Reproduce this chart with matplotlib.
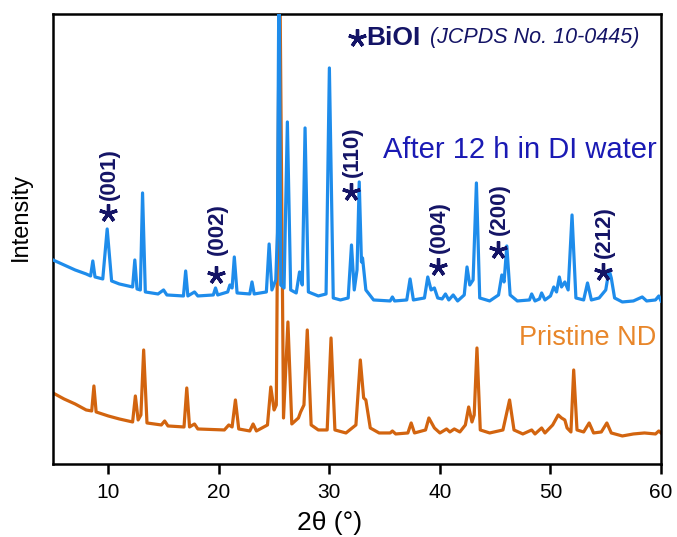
import matplotlib
matplotlib.use("Agg")
import matplotlib.pyplot as plt
import numpy as np

plt.rcParams["font.family"] = ["Liberation Sans", "DejaVu Sans"]

# XRD pattern vertices: (2theta, intensity a.u.)
after_pts = [
    (5.0, 204), (6.0, 199), (7.0, 194), (8.0, 190), (8.4, 188), (8.6, 203), (8.8, 187),
    (9.5, 185), (9.9, 235), (10.3, 183), (11.0, 180), (12.2, 177), (12.4, 204), (12.6, 175),
    (12.9, 174), (13.1, 271), (13.35, 172), (14.5, 170), (15.0, 174), (15.3, 169),
    (16.8, 168), (17.0, 193), (17.2, 168), (17.8, 172), (18.1, 168), (19.5, 169),
    (19.7, 176), (19.9, 169), (20.8, 172), (21.0, 179), (21.2, 176), (21.4, 207),
    (21.65, 171), (22.8, 170), (23.0, 182), (23.2, 170), (24.3, 172), (24.55, 220),
    (24.8, 174), (25.15, 184), (25.3, 231), (25.45, 520), (25.6, 179), (25.9, 176),
    (26.2, 342), (26.5, 174), (27.0, 171), (27.3, 192), (27.55, 179), (27.8, 336),
    (28.1, 172), (29.0, 168), (29.7, 170), (30.0, 396), (30.35, 166), (31.0, 164),
    (31.7, 166), (32.0, 219), (32.25, 174), (32.5, 194), (32.7, 282), (32.9, 202),
    (33.0, 206), (33.3, 174), (34.0, 164), (35.5, 163), (35.7, 167), (35.9, 163),
    (37.0, 164), (37.3, 185), (37.6, 164), (38.6, 166), (38.9, 187), (39.2, 174),
    (39.5, 176), (39.8, 166), (40.2, 165), (40.5, 170), (40.8, 164), (41.2, 169),
    (41.6, 163), (42.2, 169), (42.45, 197), (42.7, 179), (43.0, 184), (43.3, 281),
    (43.6, 166), (44.5, 163), (45.3, 169), (45.6, 189), (45.8, 182), (46.05, 218),
    (46.35, 169), (47.0, 163), (48.1, 164), (48.3, 170), (48.6, 163), (49.0, 165),
    (49.2, 171), (49.5, 164), (50.0, 168), (50.3, 177), (50.55, 172), (50.8, 187),
    (51.0, 177), (51.3, 182), (51.6, 174), (51.95, 249), (52.3, 166), (53.0, 164),
    (53.35, 181), (53.7, 164), (54.4, 166), (55.0, 174), (55.3, 194), (55.5, 186),
    (55.8, 166), (56.5, 162), (57.5, 163), (58.3, 167), (58.7, 163), (59.5, 164),
    (59.8, 168), (60.0, 163),
]

pristine_pts = [
    (5.0, 71), (6.0, 65), (7.0, 60), (8.0, 54), (8.5, 53), (8.7, 78), (8.9, 52),
    (10.0, 48), (11.0, 45), (12.2, 42), (12.45, 68), (12.7, 44), (12.95, 49), (13.2, 114),
    (13.5, 41), (14.8, 39), (15.1, 43), (15.4, 38), (16.85, 37), (17.1, 76), (17.35, 37),
    (17.8, 40), (18.1, 35), (20.5, 34), (20.9, 39), (21.2, 37), (21.5, 64), (21.8, 35),
    (22.8, 33), (23.1, 40), (23.4, 33), (24.4, 39), (24.7, 77), (25.0, 54), (25.2, 59),
    (25.5, 520), (25.85, 46), (26.25, 142), (26.6, 40), (27.2, 46), (27.4, 52),
    (27.7, 59), (28.0, 134), (28.35, 39), (29.0, 34), (29.8, 34), (30.15, 126),
    (30.5, 34), (31.5, 31), (32.4, 39), (32.8, 104), (33.1, 66), (33.3, 64), (33.7, 36),
    (34.5, 31), (35.5, 31), (35.7, 33), (36.0, 30), (37.1, 31), (37.4, 41), (37.7, 31),
    (38.7, 34), (39.0, 46), (39.5, 36), (40.0, 31), (40.6, 35), (40.9, 32), (41.3, 35),
    (41.8, 32), (42.3, 39), (42.6, 57), (42.9, 42), (43.1, 49), (43.35, 116),
    (43.65, 34), (44.5, 31), (45.7, 34), (46.3, 64), (46.7, 34), (47.5, 30), (48.3, 34),
    (48.6, 30), (49.2, 36), (49.5, 31), (50.2, 39), (50.7, 49), (51.0, 46), (51.3, 44),
    (51.5, 36), (51.85, 32), (52.1, 94), (52.4, 34), (53.0, 32), (53.5, 41), (53.9, 31),
    (54.6, 32), (55.1, 41), (55.5, 31), (56.5, 28), (57.5, 30), (58.5, 31), (59.5, 30),
    (59.8, 33), (60.0, 31),
]

# BiOI reflections: label, star marker position, label base height
hkl_labels = ["(001)", "(002)", "(110)", "(004)", "(200)", "(212)"]
hkl_tt = [9.98, 19.75, 32.0, 39.84, 45.27, 54.77]
hkl_star_y = [251, 189, 272, 197, 214, 192]
hkl_label_y = [264, 209, 287, 211, 229, 206]

after_tt, after_int = np.array(after_pts).T
pri_tt, pri_int = np.array(pristine_pts).T

NAVY = "#141466"
STAR = (5, 2, 0)

fig = plt.figure(figsize=(6.77, 5.37), dpi=100)
ax = fig.add_axes([0.0783, 0.136, 0.8981, 0.838])

ax.plot(pri_tt, pri_int, color="#D2640F", lw=2.3, zorder=2)
ax.plot(after_tt, after_int, color="#1E8CEB", lw=2.3, zorder=3)

ax.set_xlim(5, 60)
ax.set_ylim(0, 450)
ax.set_xticks([10, 20, 30, 40, 50, 60])
ax.set_yticks([])
ax.tick_params(axis="x", direction="out", length=7, width=1.8, labelsize=15, pad=7)
for s in ax.spines.values():
    s.set_linewidth(1.8)

ax.set_xlabel("2\u03b8 (\u00b0)", fontsize=19)
ax.xaxis.set_label_coords(0.455, -0.105)
ax.set_ylabel("Intensity", fontsize=17)
ax.yaxis.set_label_coords(-0.034, 0.55)

ax.plot(hkl_tt, hkl_star_y, ls="none", marker=STAR, ms=13, mew=2.4, color=NAVY, zorder=4)
for lab, tt, ly in zip(hkl_labels, hkl_tt, hkl_label_y):
    ax.text(tt + 0.1, ly, lab, fontsize=16, fontweight="bold", color=NAVY,
            rotation=90, ha="center", va="bottom", zorder=4)

ax.plot([32.5], [426], ls="none", marker=STAR, ms=13, mew=2.4, color=NAVY)
ax.text(33.3, 426, "BiOI", fontsize=19, fontweight="bold", color=NAVY, ha="left", va="center")
ax.text(39.1, 426, "(JCPDS No. 10-0445)", fontsize=15.5, style="italic", color=NAVY,
        ha="left", va="center")

ax.text(59.6, 314, "After 12 h in DI water", fontsize=21, color="#1A1AB4", ha="right", va="center")
ax.text(59.6, 126, "Pristine ND", fontsize=19.5, color="#E8862A", ha="right", va="center")

fig.savefig("out.png", dpi=100)
